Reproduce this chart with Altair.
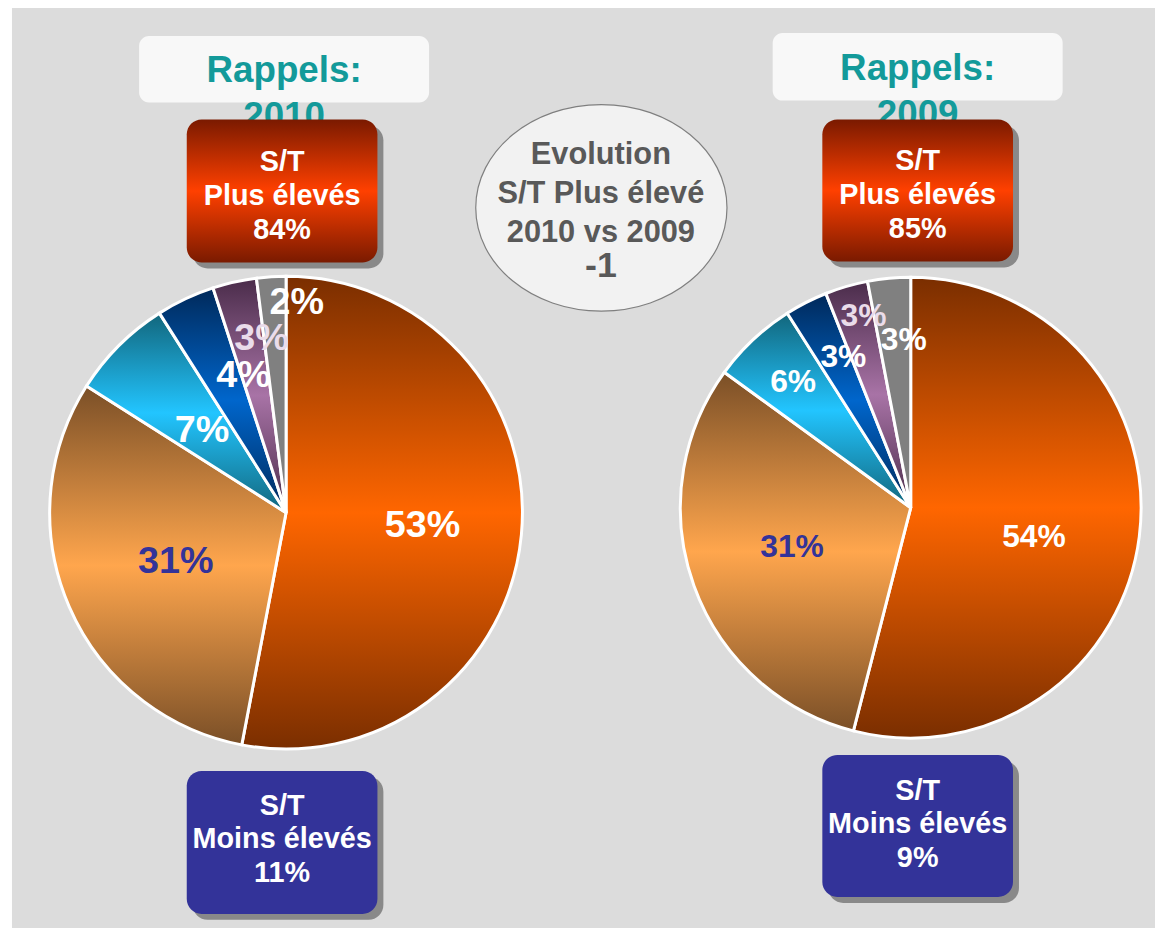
import math
import altair as alt
import pandas as pd

# ---------------- data ----------------
YEARS = ["2010", "2009"]
SEGMENTS = ["seg1", "seg2", "seg3", "seg4", "seg5", "seg6"]
VALUES_2010 = [53, 31, 7, 4, 3, 2]
VALUES_2009 = [54, 31, 6, 3, 3, 3]
HIGH_SHARE = [84, 85]          # "S/T Plus élevés"
LOW_SHARE = [11, 9]            # "S/T Moins élevés"
TITLE_WORD = "Rappels:"
HIGH_TEXT = ["S/T", "Plus élevés"]
LOW_TEXT = ["S/T", "Moins élevés"]
EVOLUTION_LINES = ["Evolution", "S/T Plus élevé", "2010 vs 2009"]
EVOLUTION_DELTA = -1

rows = []
for year, vals in zip(YEARS, [VALUES_2010, VALUES_2009]):
    for i, (seg, v) in enumerate(zip(SEGMENTS, vals)):
        rows.append({"year": year, "segment": seg, "order": i, "value": v, "label": f"{v}%"})
pie_df = pd.DataFrame(rows)
one = pd.DataFrame({"k": [0]})

# ---------------- styling ----------------
FONT = "Liberation Sans"
OFF = 8


def px(v):
    return v - OFF


def vgrad(edge, mid, lo=0.5, hi=0.5):
    stops = [alt.GradientStop(offset=0, color=edge),
             alt.GradientStop(offset=lo, color=mid)]
    if hi != lo:
        stops.append(alt.GradientStop(offset=hi, color=mid))
    stops.append(alt.GradientStop(offset=1, color=edge))
    return alt.LinearGradient(gradient="linear", x1=0, y1=0, x2=0, y2=1, stops=stops)


SLICE_FILLS = [
    vgrad("#7a2e00", "#ff6600"),
    vgrad("#7a4f27", "#ffa64d"),
    vgrad("#12667c", "#22c5ff"),
    vgrad("#00295a", "#0066cc"),
    vgrad("#4a2c4a", "#a873a6"),
    vgrad("#808080", "#808080"),
]

PIES = {
    "2010": dict(cx=288, cy=513, r=238, fs=38),
    "2009": dict(cx=917, cy=508, r=232, fs=32),
}

# radius, dx, dy, color  per label
LABEL_STYLE = {
    "2010": [(138, 0, 0, "white"), (121, 0, 2, "#333399"), (117, -2, 1, "white"),
             (143, 18, -8, "white"), (178, 14, -1, "#eadcea"), (211, 24, 0, "white")],
    "2009": [(120, 5, 15, "white"), (127, 0, -3, "#333399"), (173, 0, 0, "white"),
             (167, 8, -3, "white"), (199, 8, -2, "#eadcea"), (170, 9, 0, "white")],
}

THETA_SCALE = alt.Scale(domain=[0, 100], range=[0, 2 * math.pi])

base = (
    alt.Chart(pie_df)
    .transform_window(t_end="sum(value)", groupby=["year"],
                      sort=[alt.SortField("order")], frame=[None, 0])
    .transform_calculate(t_start="datum.t_end - datum.value",
                         t_mid="datum.t_end - datum.value / 2")
)


def rect(x0, y0, x1, y1, **mark):
    return alt.Chart(one).mark_rect(**mark).encode(
        x=alt.value(px(x0)), x2=alt.value(px(x1)),
        y=alt.value(px(y0)), y2=alt.value(px(y1)))


def text(txt, x, y, **mark):
    # y is the centre of the first line
    return alt.Chart(pd.DataFrame({"t": [txt]})).mark_text(
        font=FONT, fontWeight="bold", align="center", baseline="middle",
        lineBreak="\n", **mark).encode(
        text="t:N", x=alt.value(px(x)), y=alt.value(px(y)))


layers = []
# page background
layers.append(rect(12, 0, 1163, 940, color="#dcdcdc"))

# title boxes ("Rappels: 2010 / 2009")
TITLE_BOXES = [(140, 33, 432, 100), (778, 30, 1070, 98)]
TITLE_TEXT_Y = [68, 66]
for k, year in enumerate(YEARS):
    x0, y0, x1, y1 = TITLE_BOXES[k]
    layers.append(rect(x0, y0, x1, y1, color="#f8f8f8", cornerRadius=10))
    layers.append(text(f"{TITLE_WORD}\n{year}", (x0 + x1) / 2, TITLE_TEXT_Y[k],
                       fontSize=37, lineHeight=47, color="#139a9a"))

# high / low boxes
HIGH_BOXES = [(188, 117, 380, 261), (828, 117, 1020, 260)]
HIGH_TEXT_Y = [160, 159]
LOW_BOXES = [(188, 773, 380, 917), (828, 757, 1020, 900)]
LOW_TEXT_Y = [808, 793]
HIGH_GRAD = vgrad("#7a1a00", "#ff4000")
for k in range(2):
    x0, y0, x1, y1 = HIGH_BOXES[k]
    layers.append(rect(x0 + 6, y0 + 6, x1 + 6, y1 + 6, color="#7f7f7f", cornerRadius=15, opacity=0.9))
    layers.append(rect(x0, y0, x1, y1, fill=HIGH_GRAD, cornerRadius=15))
    layers.append(text("\n".join(HIGH_TEXT + [f"{HIGH_SHARE[k]}%"]), (x0 + x1) / 2, HIGH_TEXT_Y[k],
                       fontSize=29, lineHeight=34, color="white"))
    x0, y0, x1, y1 = LOW_BOXES[k]
    layers.append(rect(x0 + 6, y0 + 6, x1 + 6, y1 + 6, color="#7f7f7f", cornerRadius=15, opacity=0.9))
    layers.append(rect(x0, y0, x1, y1, color="#333399", cornerRadius=15))
    layers.append(text("\n".join(LOW_TEXT + [f"{LOW_SHARE[k]}%"]), (x0 + x1) / 2, LOW_TEXT_Y[k],
                       fontSize=29, lineHeight=34, color="white"))

# evolution ellipse
RX, RY = 126.5, 104
ELLIPSE_PATH = f"M-1,0A1,{RY / RX:.3f},0,1,1,1,0A1,{RY / RX:.3f},0,1,1,-1,0Z"
layers.append(
    alt.Chart(one).mark_point(shape=ELLIPSE_PATH, filled=True, fill="#f2f2f2",
                              stroke="#7f7f7f", strokeWidth=1.2, opacity=1,
                              size=4 * RX * RX)
    .encode(x=alt.value(px(605.5)), y=alt.value(px(206)))
)
layers.append(text("\n".join(EVOLUTION_LINES), 605, 153, fontSize=31, lineHeight=39, color="#595959"))
layers.append(text(f"{EVOLUTION_DELTA}", 605, 265, fontSize=36, color="#595959"))

# pies
for year in YEARS:
    p = PIES[year]
    for i in range(len(SEGMENTS)):
        flt = f"datum.year == '{year}' && datum.order == {i}"
        layers.append(
            base.transform_filter(flt)
            .mark_arc(outerRadius=p["r"], fill=SLICE_FILLS[i], stroke="white", strokeWidth=3)
            .encode(theta=alt.Theta("t_start:Q", scale=THETA_SCALE),
                    theta2="t_end:Q",
                    x=alt.value(px(p["cx"])), y=alt.value(px(p["cy"])))
        )
    for i in range(len(SEGMENTS)):
        flt = f"datum.year == '{year}' && datum.order == {i}"
        r, dx, dy, col = LABEL_STYLE[year][i]
        layers.append(
            base.transform_filter(flt)
            .mark_text(radius=r, dx=dx, dy=dy, fontSize=p["fs"], fontWeight="bold",
                       font=FONT, color=col, align="center", baseline="middle")
            .encode(theta=alt.Theta("t_mid:Q", scale=THETA_SCALE, stack=None),
                    text="label:N",
                    x=alt.value(px(p["cx"])), y=alt.value(px(p["cy"])))
        )

chart = (
    alt.layer(*layers)
    .properties(width=1157, height=920, autosize="none", padding=0, background="white")
    .configure_view(stroke=None)
)

chart.save("out.html", embed_options={"renderer": "svg", "actions": False})
